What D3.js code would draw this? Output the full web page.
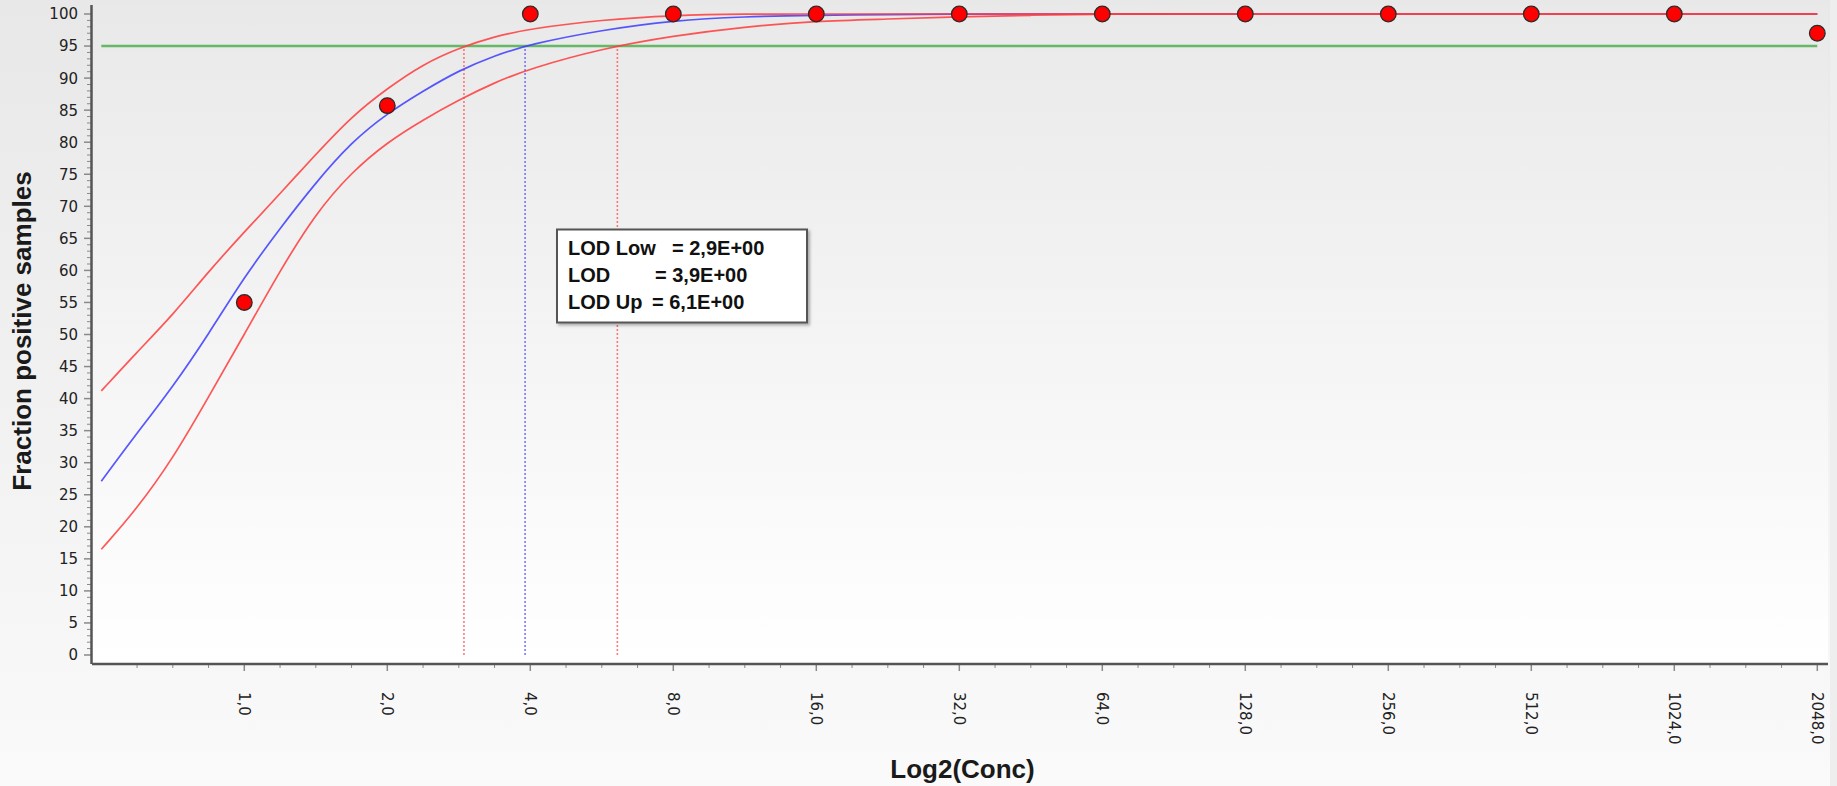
<!DOCTYPE html>
<html>
<head>
<meta charset="utf-8">
<script src="https://cdn.jsdelivr.net/npm/d3@7"></script>
<style>
  html, body { margin: 0; padding: 0; background: #efefef; }
  svg { display: block; }
</style>
</head>
<body>
<svg id="chart" width="1837" height="786"></svg>
<script>
// Observed hit rates per concentration
const pointConc = [1, 2, 4, 8, 16, 32, 64, 128, 256, 512, 1024, 2048];
const pointFraction = [55, 85.7, 100, 100, 100, 100, 100, 100, 100, 100, 100, 97];

// Fitted detection curve with its lower/upper confidence band
const curveConc = [0.5, 0.59, 0.71, 0.84, 1, 1.19, 1.41, 1.68, 2, 2.38, 2.83, 3.36, 4, 5.66, 8, 11.3, 16, 22.6, 32, 45.3, 64, 128, 256, 512, 1024, 2048];
const fitMid   = [27.1, 34.3, 42.0, 50.0, 59.0, 66.6, 73.6, 80.0, 84.5, 88.0, 91.2, 93.5, 95.3, 97.5, 99.0, 99.6, 99.8, 99.9, 100, 100, 100, 100, 100, 100, 100, 100];
const fitUpper = [41.2, 47.0, 53.2, 59.8, 66.0, 72.0, 78.0, 84.0, 88.4, 92.2, 94.7, 96.5, 97.7, 99.1, 99.8, 100, 100, 100, 100, 100, 100, 100, 100, 100, 100, 100];
const fitLower = [16.5, 22.5, 30.8, 40.2, 50.0, 60.0, 68.8, 75.3, 80.0, 83.5, 86.6, 89.3, 91.5, 94.6, 96.6, 98.0, 98.9, 99.2, 99.6, 99.8, 100, 100, 100, 100, 100, 100];

// Detection limits
const lodLabels = ["LOD Low", "LOD", "LOD Up"];
const lodValues = [2.9, 3.9, 6.1];
const lodText = ["= 2,9E+00", "= 3,9E+00", "= 6,1E+00"];
const targetLevel = 95;

// Axis ticks
const yTicks = d3.range(0, 101, 5);
const xTickConc = [1, 2, 4, 8, 16, 32, 64, 128, 256, 512, 1024, 2048];

const svg = d3.select("#chart");
const W = 1837, H = 786;
const plot = { left: 92, right: 1828, top: 5, bottom: 664 };

const x = d3.scaleLog().base(2).domain([0.5, 2048]).range([101.3, 1817.3]);
const y = d3.scaleLinear().domain([0, 100]).range([655, 14]);

// Backgrounds
const defs = svg.append("defs");
const gPanel = defs.append("linearGradient").attr("id", "panelGrad")
  .attr("x1", 0).attr("y1", 0).attr("x2", 0).attr("y2", 1);
gPanel.append("stop").attr("offset", 0).attr("stop-color", "#e8e8e8");
gPanel.append("stop").attr("offset", 1).attr("stop-color", "#fafafa");
const gPlot = defs.append("linearGradient").attr("id", "plotGrad")
  .attr("x1", 0).attr("y1", 0).attr("x2", 0).attr("y2", 1);
gPlot.append("stop").attr("offset", 0).attr("stop-color", "#e9e9e9");
gPlot.append("stop").attr("offset", 1).attr("stop-color", "#ffffff");
const shadow = defs.append("filter").attr("id", "boxShadow")
  .attr("x", "-10%").attr("y", "-10%").attr("width", "130%").attr("height", "140%");
shadow.append("feDropShadow").attr("dx", 2).attr("dy", 2).attr("stdDeviation", 1.5)
  .attr("flood-color", "#000").attr("flood-opacity", 0.3);

svg.append("rect").attr("x", 0).attr("y", 0).attr("width", W).attr("height", H).attr("fill", "#eeeeee");
svg.append("rect").attr("x", 0).attr("y", 0).attr("width", 1830).attr("height", H).attr("fill", "url(#panelGrad)");
svg.append("rect").attr("x", plot.left).attr("y", plot.top)
  .attr("width", plot.right - plot.left).attr("height", plot.bottom - plot.top)
  .attr("fill", "url(#plotGrad)");

// Target level line
svg.append("line")
  .attr("x1", x(0.5)).attr("x2", x(2048))
  .attr("y1", y(targetLevel)).attr("y2", y(targetLevel))
  .attr("stroke", "#66b866").attr("stroke-width", 2.4);

// Vertical limit markers
const lodColors = ["#ff5a5a", "#5a5aff", "#ff5a5a"];
svg.append("g").selectAll("line").data(lodValues).join("line")
  .attr("x1", d => x(d)).attr("x2", d => x(d))
  .attr("y1", y(0)).attr("y2", y(targetLevel))
  .attr("stroke", (d, i) => lodColors[i])
  .attr("stroke-width", 1.6)
  .attr("stroke-dasharray", "2,2")
  .attr("opacity", 0.8);

// Curves
const line = d3.line().x(d => x(d[0])).y(d => y(d[1])).curve(d3.curveBasis);
const series = [
  { values: fitMid, color: "#3b3bff" },
  { values: fitUpper, color: "#ff3a3a" },
  { values: fitLower, color: "#ff3a3a" }
];
svg.append("g").selectAll("path").data(series).join("path")
  .attr("d", s => line(curveConc.map((c, i) => [c, s.values[i]])))
  .attr("fill", "none")
  .attr("stroke", s => s.color)
  .attr("stroke-width", 1.7)
  .attr("opacity", 0.85);

// Axes
const axisColor = "#555";
const tickColor = "#8a8a8a";
const yAxis = svg.append("g");
yAxis.selectAll("line.minor").data(d3.range(0, 101, 1).filter(v => v % 5 !== 0)).join("line")
  .attr("class", "minor")
  .attr("x1", 87).attr("x2", 91).attr("y1", d => y(d)).attr("y2", d => y(d))
  .attr("stroke", tickColor).attr("stroke-width", 1);
yAxis.selectAll("line.major").data(yTicks).join("line")
  .attr("class", "major")
  .attr("x1", 84).attr("x2", 91).attr("y1", d => y(d)).attr("y2", d => y(d))
  .attr("stroke", tickColor).attr("stroke-width", 1.5);
yAxis.selectAll("text").data(yTicks).join("text")
  .attr("x", 78).attr("y", d => y(d)).attr("dy", "0.36em")
  .attr("text-anchor", "end")
  .attr("font-family", "DejaVu Sans, sans-serif").attr("font-size", 15)
  .attr("fill", "#222")
  .text(d => d);
yAxis.append("line")
  .attr("x1", 91.5).attr("x2", 91.5).attr("y1", plot.top).attr("y2", plot.bottom)
  .attr("stroke", axisColor).attr("stroke-width", 2.5);

const xAxis = svg.append("g");
xAxis.selectAll("line.minor").data(d3.range(-3, 45).filter(k => k % 4 !== 0).map(k => Math.pow(2, k / 4))).join("line")
  .attr("class", "minor")
  .attr("x1", d => x(d)).attr("x2", d => x(d)).attr("y1", 664).attr("y2", 668)
  .attr("stroke", tickColor).attr("stroke-width", 1);
xAxis.selectAll("line.major").data(xTickConc).join("line")
  .attr("class", "major")
  .attr("x1", d => x(d)).attr("x2", d => x(d)).attr("y1", 664).attr("y2", 671)
  .attr("stroke", tickColor).attr("stroke-width", 1.5);
xAxis.selectAll("text").data(xTickConc).join("text")
  .attr("transform", d => `translate(${x(d)},692) rotate(90)`)
  .attr("dy", "0.36em")
  .attr("text-anchor", "start")
  .attr("font-family", "DejaVu Sans, sans-serif").attr("font-size", 15)
  .attr("fill", "#222")
  .text(d => d3.format(".1f")(d).replace(".", ","));
xAxis.append("line")
  .attr("x1", plot.left).attr("x2", plot.right).attr("y1", 664).attr("y2", 664)
  .attr("stroke", axisColor).attr("stroke-width", 2.5);

// Axis titles
svg.append("text")
  .attr("transform", "translate(31,331) rotate(-90)")
  .attr("text-anchor", "middle")
  .attr("font-family", "Liberation Sans, Arial, sans-serif").attr("font-weight", "bold")
  .attr("font-size", 26).attr("fill", "#1a1a1a")
  .text("Fraction positive samples");
svg.append("text")
  .attr("x", 962.5).attr("y", 778)
  .attr("text-anchor", "middle")
  .attr("font-family", "Liberation Sans, Arial, sans-serif").attr("font-weight", "bold")
  .attr("font-size", 26).attr("fill", "#1a1a1a")
  .text("Log2(Conc)");

// Observed points
svg.append("g").selectAll("circle").data(pointConc).join("circle")
  .attr("cx", d => x(d))
  .attr("cy", (d, i) => y(pointFraction[i]))
  .attr("r", 7.8)
  .attr("fill", "#ff0000")
  .attr("stroke", "#2a2a2a")
  .attr("stroke-width", 1.3);

// Limit annotation box
const box = svg.append("g");
box.append("rect")
  .attr("x", 557).attr("y", 229.5).attr("width", 250).attr("height", 93)
  .attr("fill", "#ffffff").attr("stroke", "#555").attr("stroke-width", 2)
  .attr("filter", "url(#boxShadow)");
const valueX = [672, 655, 652];
lodLabels.forEach((lab, i) => {
  const by = 255 + i * 27.2;
  box.append("text").attr("x", 568).attr("y", by)
    .attr("font-family", "Liberation Sans, Arial, sans-serif").attr("font-weight", "bold")
    .attr("font-size", 20).attr("fill", "#111").text(lab);
  box.append("text").attr("x", valueX[i]).attr("y", by)
    .attr("font-family", "Liberation Sans, Arial, sans-serif").attr("font-weight", "bold")
    .attr("font-size", 20).attr("fill", "#111").text(lodText[i]);
});
</script>
</body>
</html>
